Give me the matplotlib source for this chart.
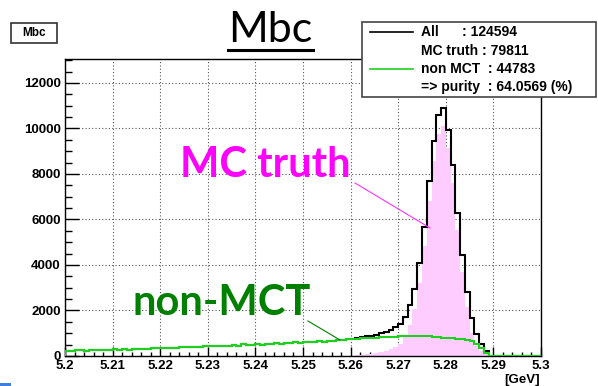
import numpy as np
import matplotlib
matplotlib.use('Agg')
import matplotlib.pyplot as plt
from matplotlib.ticker import MultipleLocator, FuncFormatter
from matplotlib.patches import Rectangle
from matplotlib.lines import Line2D

plt.rcParams['font.family'] = ['Liberation Sans', 'DejaVu Sans']

# histogram binning: 100 bins, 5.20 - 5.30 GeV
x_lo, x_hi, n_bins = 5.2, 5.3, 100

# non-MC-truth candidates per bin
non_mct = [
    240, 235, 250, 255, 240, 265, 260, 275, 255, 280,
    290, 275, 300, 285, 310, 295, 320, 305, 370, 335,
    345, 330, 365, 355, 410, 380, 395, 410, 385, 430,
    440, 425, 450, 435, 460, 475, 455, 515, 480, 500,
    525, 505, 540, 530, 555, 545, 575, 560, 600, 585,
    605, 625, 610, 645, 635, 670, 655, 690, 715, 730,
    740, 755, 770, 785, 800, 810, 820, 830, 845, 855,
    860, 870, 885, 890, 880, 870, 860, 850, 835, 810,
    800, 790, 760, 730, 690, 650, 520, 340, 130, 0,
    0, 0, 0, 0, 0, 0, 0, 0, 0, 0,
]

# MC truth candidates per bin
mc_truth = [0] * 60 + [
    20, 30, 60, 75, 90, 130, 185, 235, 310, 400,
    540, 830, 1365, 2060, 3200, 4820, 6810, 8580, 9765, 10090,
    9150, 7610, 5520, 3710, 2140, 1030, 440, 200, 100,
] + [0] * 11

legend_lines = ['All      : 124594', 'MC truth : 79811',
                'non MCT  : 44783', '=> purity  : 64.0569 (%)']

W, H = 598, 386
edges = np.linspace(x_lo, x_hi, n_bins + 1)
all_cand = np.array(non_mct) + np.array(mc_truth)

fig = plt.figure(figsize=(W / 100, H / 100), dpi=100)
ax = fig.add_axes([65 / W, 1 - 356 / H, (541 - 65) / W, (356 - 59) / H])

ax.stairs(mc_truth, edges, fill=True, color='#ffccff', zorder=2)
ax.stairs(all_cand, edges, color='black', lw=1.5, zorder=3)
ax.stairs(non_mct, edges, color='#1ed01e', lw=1.5, zorder=4)

ax.set_xlim(x_lo, x_hi)
ax.set_ylim(0, 13050)
ax.xaxis.set_major_locator(MultipleLocator(0.01))
ax.xaxis.set_minor_locator(MultipleLocator(0.002))
ax.yaxis.set_major_locator(MultipleLocator(2000))
ax.yaxis.set_minor_locator(MultipleLocator(500))
ax.xaxis.set_major_formatter(FuncFormatter(lambda v, p: f'{round(v, 3):g}'))
ax.tick_params(axis='y', which='major', direction='in', length=10, width=1, pad=3)
ax.tick_params(axis='y', which='minor', direction='in', length=5, width=1)
ax.tick_params(axis='x', which='major', direction='in', length=6.5, width=1, pad=3)
ax.tick_params(axis='x', which='minor', direction='in', length=3.2, width=1)
for lab in ax.get_xticklabels() + ax.get_yticklabels():
    lab.set_fontweight('bold')
    lab.set_fontsize(9.5)
ax.grid(True, which='major', linestyle=(0, (1, 2)), color='#555555', lw=0.8)
for s in ax.spines.values():
    s.set_linewidth(1)
ax.set_axisbelow(True)


def fx(px):
    return px / W


def fy(py):
    return 1 - py / H


# big annotations
fig.text(fx(265), fy(165), 'MC truth', color='#ff00ff', fontsize=30,
         fontweight='bold', family='Lato', ha='center', va='center')
fig.text(fx(222), fy(303), 'non-MCT', color='#008000', fontsize=30,
         fontweight='bold', family='Lato', ha='center', va='center')

fig.add_artist(Line2D([fx(355), fx(430)], [fy(183), fy(228)], color='#ff33ff', lw=0.8))
fig.add_artist(Line2D([fx(308), fx(340)], [fy(321), fy(340)], color='#008000', lw=0.8))

# title
fig.text(fx(270), fy(30), 'Mbc', ha='center', va='center', fontsize=31, family='Lato')
fig.add_artist(Line2D([fx(228), fx(313)], [fy(50), fy(50)], color='black', lw=2.2))

# ROOT title box
fig.add_artist(Rectangle((fx(11), fy(43)), fx(46), 20 / H, facecolor='white',
                         edgecolor='#333333', lw=1.2))
fig.text(fx(34), fy(33), 'Mbc', ha='center', va='center', fontsize=8.5, fontweight='bold')

# legend box
fig.add_artist(Rectangle((fx(362), fy(97)), fx(234), 75 / H, facecolor='white',
                         edgecolor='#444444', lw=1.2))
ys = [32, 51, 69, 87]
fig.add_artist(Line2D([fx(370), fx(413)], [fy(32), fy(32)], color='black', lw=1.2))
fig.add_artist(Line2D([fx(370), fx(413)], [fy(69), fy(69)], color='#1ed01e', lw=1.2))
for t, y in zip(legend_lines, ys):
    fig.text(fx(421), fy(y), t, ha='left', va='center', fontsize=10, fontweight='bold')

fig.text(fx(540), fy(380), '[GeV]', ha='right', va='center', fontsize=9.5, fontweight='bold')

# small blue mark from the slide
fig.add_artist(Rectangle((0, 0), fx(11), 3 / H, facecolor='#3d7fe0', edgecolor='none'))

fig.savefig('out.png', dpi=100)
